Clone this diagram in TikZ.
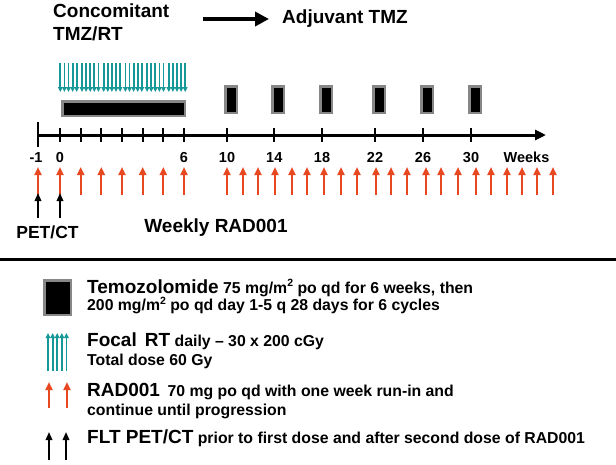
\documentclass[tikz,border=0pt]{standalone}
\usepackage{fontspec}
\setmainfont{Liberation Sans}
\usetikzlibrary{arrows.meta}
\definecolor{tealc}{RGB}{22,152,152}
\definecolor{radc}{RGB}{232,72,32}
\definecolor{bordgray}{RGB}{135,135,135}
\newcommand\msq{\raisebox{0.42em}{\fontsize{10.5}{10}\selectfont 2}}
\begin{document}
\begin{tikzpicture}[x=1pt,y=-1pt,
  txt/.style={inner sep=0pt, anchor=base west},
  big/.style={font=\bfseries\fontsize{19}{23}\selectfont},
  lbl/.style={inner sep=0pt, anchor=base, font=\bfseries\fontsize{14.5}{17}\selectfont},
  legt/.style={inner sep=0pt, anchor=base west, font=\bfseries\fontsize{15.8}{18}\selectfont},
  redarr/.style={draw=radc, line width=2pt, -{Triangle[width=7pt,length=8pt]}},
  blkarr/.style={draw=black, line width=1.8pt, -{Triangle[width=6.5pt,length=8pt]}},
  tealarr/.style={draw=tealc, line width=1.8pt, -{Triangle[width=4.6pt,length=5pt]}},
  tmzbox/.style={draw=bordgray, fill=black, line width=2.5pt, inner sep=0pt},
]
\useasboundingbox (0,0) rectangle (616,464);

% ---------- header ----------
\node[txt, big] (conc) at (53,17) {Concomitant};
\node[txt, big] (tmzrt) at (53,40) {TMZ/RT};
\coordinate (ha) at (203,19);
\coordinate (hb) at (269,19);
\draw[line width=3.5pt, -{Triangle[width=14pt,length=14pt]}] (ha) -- (hb);
\node[txt, big] (adj) at (282,23) {Adjuvant TMZ};

% ---------- focal RT (teal arrows) ----------
\foreach \g in {0,...,5}{
  \foreach \k in {0,...,4}{
    \pgfmathsetmacro{\xx}{60.3+21.7*\g+4.1*\k}
    \coordinate (rta\g\k) at (\xx,63);
    \coordinate (rtb\g\k) at (\xx,92);
    \draw[tealarr] (rta\g\k) -- (rtb\g\k);
  }
}

% ---------- temozolomide bars ----------
\node[tmzbox, minimum width=122.5pt, minimum height=14.5pt] (bar) at (123.5,108.5) {};
\foreach \c/\xx in {a/231,b/278,c/326,d/379,e/427,f/475}{
  \node[tmzbox, minimum width=11.5pt, minimum height=26.5pt] (cyc\c) at (\xx,99.5) {};
}

% ---------- axis ----------
\coordinate (ax0) at (38,135);
\coordinate (ax1) at (546,135);
\draw[line width=3pt, -{Triangle[width=10pt,length=11pt]}] (ax0) -- (ax1);
\coordinate (vt) at (38,122);
\coordinate (vb) at (38,147);
\draw[line width=2.5pt] (vt) -- (vb);
\foreach \xx [count=\i] in {60,80.7,101.3,122,142.7,163.3,184,227,274.3,322,375,423,471}{
  \coordinate (tk\i a) at (\xx,128);
  \coordinate (tk\i b) at (\xx,142);
  \draw[line width=2pt] (tk\i a) -- (tk\i b);
}
\node[lbl] (lm1) at (36,162.5) {-1};
\node[lbl] (l0) at (60,162.5) {0};
\node[lbl] (l6) at (184,162.5) {6};
\node[lbl] (l10) at (227,162.5) {10};
\node[lbl] (l14) at (274.3,162.5) {14};
\node[lbl] (l18) at (322,162.5) {18};
\node[lbl] (l22) at (375,162.5) {22};
\node[lbl] (l26) at (423,162.5) {26};
\node[lbl] (l30) at (471,162.5) {30};
\node[lbl] (lwk) at (526.5,162.5) {Weeks};

% ---------- weekly RAD001 arrows ----------
\foreach \xx [count=\i] in {38,60,80.7,101.3,122,142.7,163.3,184,227,243,258,275,292,307,324,341,357,376,391,407,426,441,458,476,491,507,522,537,553}{
  \coordinate (ra\i) at (\xx,195);
  \coordinate (rb\i) at (\xx,167);
  \draw[redarr] (ra\i) -- (rb\i);
}
% PET/CT arrows
\coordinate (pa1) at (38,218); \coordinate (pb1) at (38,193);
\coordinate (pa2) at (60,218); \coordinate (pb2) at (60,193);
\draw[blkarr] (pa1) -- (pb1);
\draw[blkarr] (pa2) -- (pb2);
\node[inner sep=0pt, anchor=base, font=\bfseries\fontsize{17.5}{20}\selectfont] (petct) at (47.5,238) {PET/CT};
\node[inner sep=0pt, anchor=base, big] (weekly) at (216,232) {Weekly RAD001};

% ---------- separator ----------
\coordinate (s0) at (0,259.5);
\coordinate (s1) at (616,259.5);
\draw[line width=3pt] (s0) -- (s1);

% ---------- legend ----------
\node[tmzbox, minimum width=26.5pt, minimum height=34.5pt] (legbox) at (57.5,297.5) {};
\node[legt] (t1) at (87,293) {{\fontsize{19}{22}\selectfont Temozolomide} 75 mg/m\msq\ po qd for 6 weeks, then};
\node[legt] (t2) at (87,310.7) {200 mg/m\msq\ po qd day 1-5 q 28 days for 6 cycles};

\foreach \xx [count=\i] in {48,52.6,57.2,61.8,66.4}{
  \coordinate (la\i) at (\xx,371);
  \coordinate (lb\i) at (\xx,333);
  \draw[tealarr] (la\i) -- (lb\i);
}
\node[legt] (f1) at (87,346.7) {{\fontsize{19}{22}\selectfont Focal\hspace{0.15em} RT} daily – 30 x 200 cGy};
\node[legt] (f2) at (87,365) {Total dose 60 Gy};

\coordinate (lra1) at (49,408); \coordinate (lrb1) at (49,382);
\coordinate (lra2) at (67,408); \coordinate (lrb2) at (67,382);
\draw[redarr] (lra1) -- (lrb1);
\draw[redarr] (lra2) -- (lrb2);
\node[legt] (r1) at (87,396) {{\fontsize{19}{22}\selectfont RAD001}\hspace{0.2em} 70 mg po qd with one week run-in and};
\node[legt] (r2) at (87,415) {continue until progression};

\coordinate (lpa1) at (49,460); \coordinate (lpb1) at (49,432);
\coordinate (lpa2) at (66,460); \coordinate (lpb2) at (66,432);
\draw[blkarr] (lpa1) -- (lpb1);
\draw[blkarr] (lpa2) -- (lpb2);
\node[legt] (p1) at (87,443) {{\fontsize{19}{22}\selectfont FLT PET/CT} prior to first dose and after second dose of RAD001};
\end{tikzpicture}
\end{document}
